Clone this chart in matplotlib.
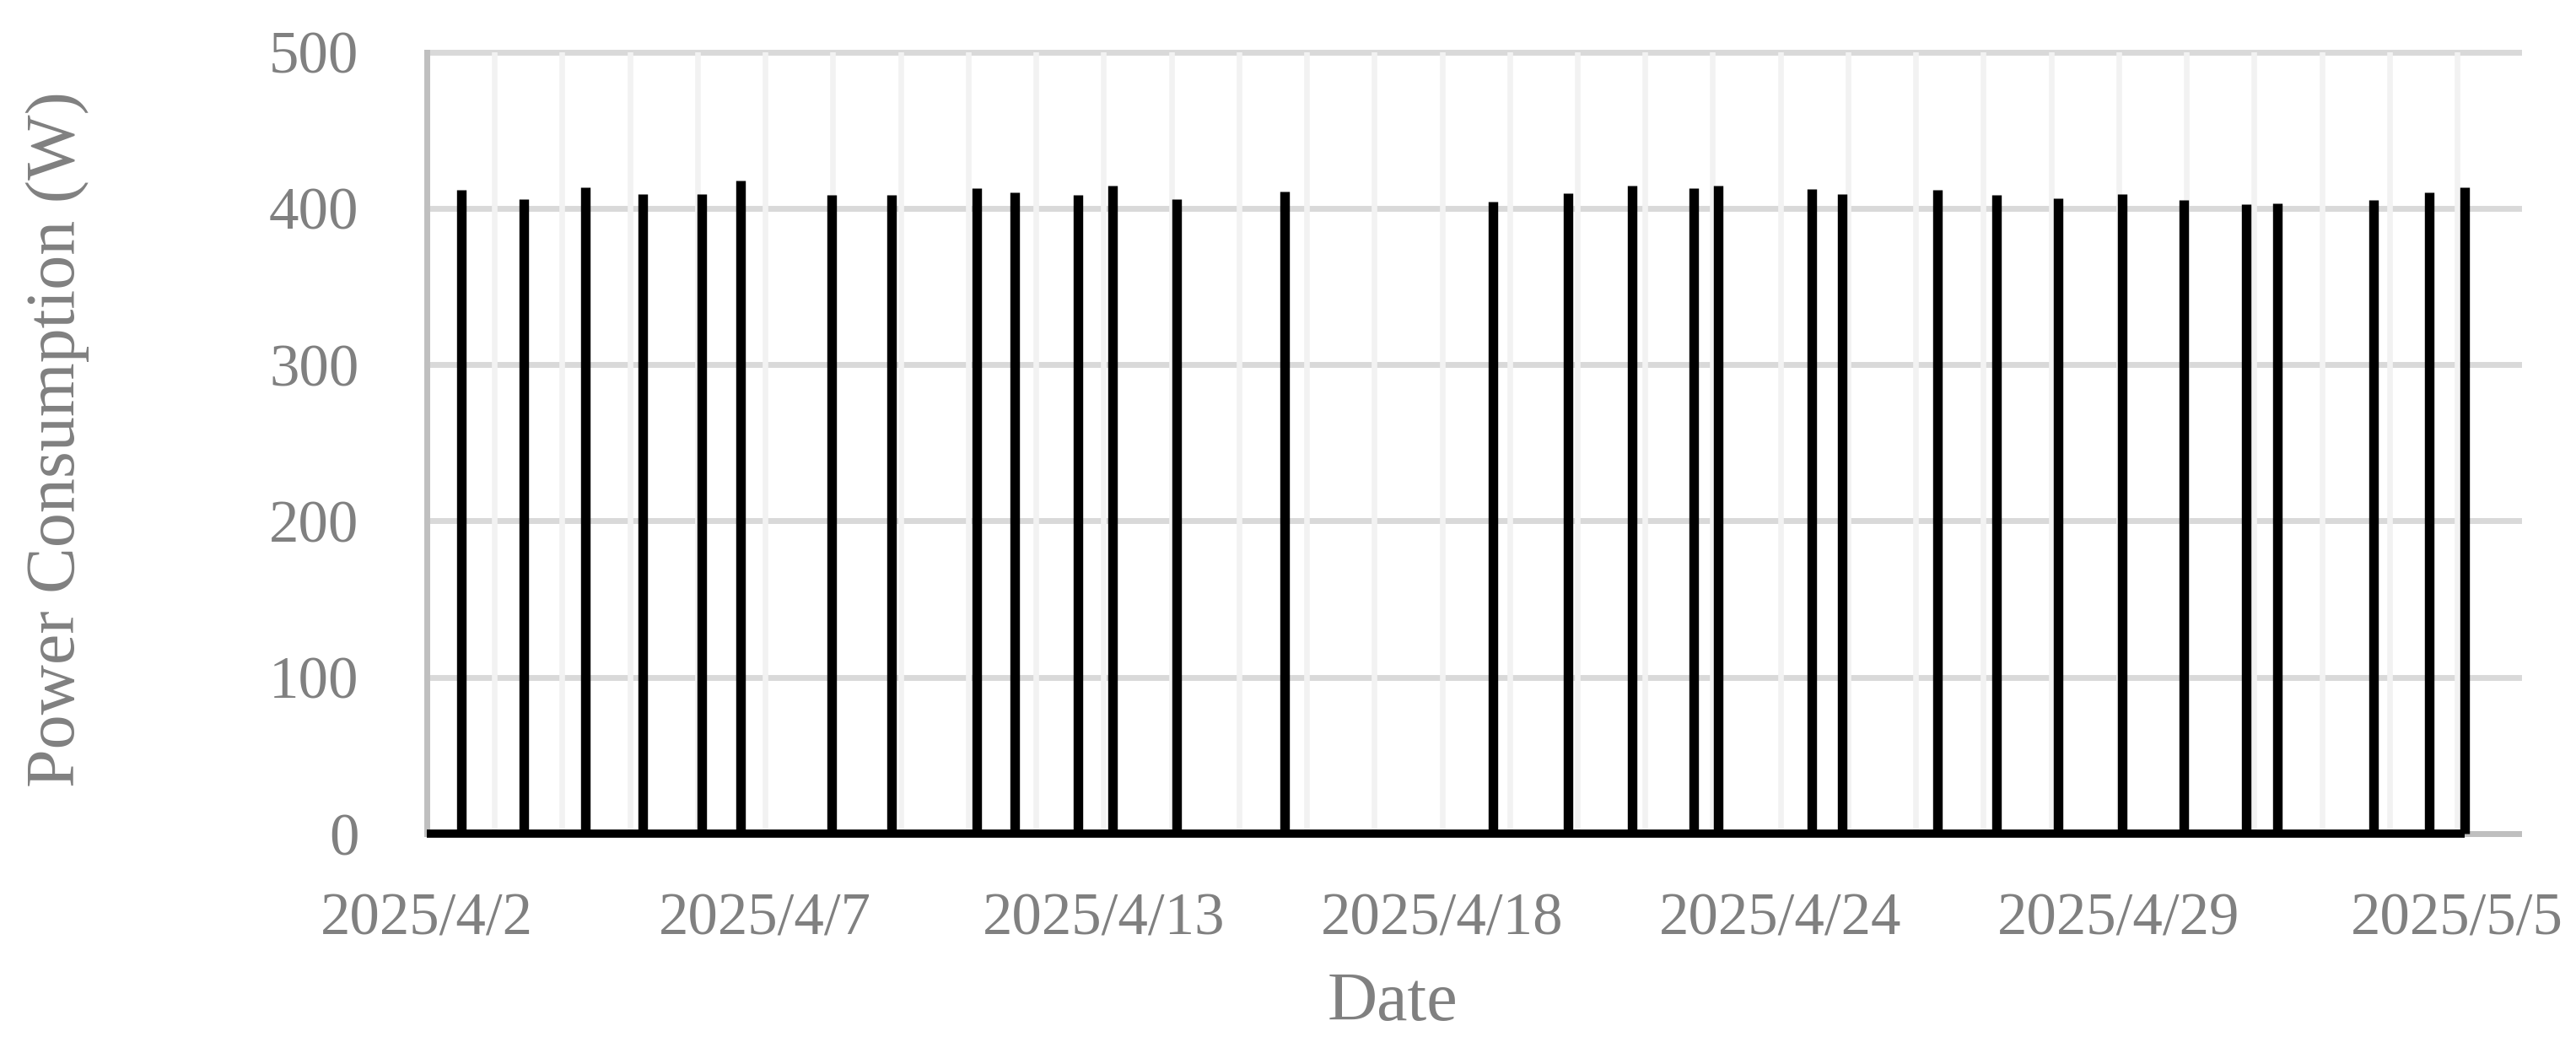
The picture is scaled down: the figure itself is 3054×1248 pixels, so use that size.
import numpy as np
import pandas as pd
import matplotlib
matplotlib.use("Agg")
import matplotlib.pyplot as plt
import matplotlib.dates as mdates
from matplotlib.ticker import FixedLocator, FuncFormatter

plt.rcParams['font.family'] = ['Liberation Serif', 'DejaVu Serif']

spike_times = [
    "2025-04-02 13:20", "2025-04-03 14:00", "2025-04-04 13:54", "2025-04-05 12:16",
    "2025-04-06 11:17", "2025-04-07 02:24", "2025-04-08 13:58", "2025-04-09 13:19",
    "2025-04-10 22:30", "2025-04-11 13:19", "2025-04-12 13:58", "2025-04-13 03:27",
    "2025-04-14 04:26", "2025-04-15 22:30", "2025-04-19 07:44", "2025-04-20 13:19",
    "2025-04-21 14:18", "2025-04-22 14:18", "2025-04-22 23:50", "2025-04-24 12:20",
    "2025-04-25 00:10", "2025-04-26 13:19", "2025-04-27 12:20", "2025-04-28 12:20",
    "2025-04-29 13:15", "2025-04-30 13:15", "2025-05-01 13:36", "2025-05-02 01:51",
    "2025-05-03 15:17", "2025-05-04 13:16", "2025-05-05 03:06",
]
spike_power = [
    411.6, 405.8, 413.2, 408.9, 408.9, 417.5, 408.4, 408.4,
    412.7, 410.0, 408.4, 414.3, 405.7, 410.5, 404.0, 409.4,
    414.3, 412.7, 414.3, 412.1, 408.9, 411.6, 408.4, 406.2,
    409.3, 405.4, 402.6, 403.2, 405.4, 410.4, 413.2,
]
# standby between the spikes
idle_times = ["2025-04-02 00:00", "2025-05-05 03:06"]
idle_power = [0, 0]

y_ticks = [0, 100, 200, 300, 400, 500]

start = pd.Timestamp("2025-04-02")
end = pd.Timestamp("2025-05-06")

W, H, DPI = 3054, 1248, 200
fig = plt.figure(figsize=(W / DPI, H / DPI), dpi=DPI)
ax = fig.add_axes([506 / W, 1 - 988 / H, (2986 - 506) / W, (988 - 61.5) / H])

text_color = '#808080'

t_spike = pd.to_datetime(spike_times)
t_idle = pd.to_datetime(idle_times)

ax.plot(t_idle, idle_power, color='black', lw=3.5, solid_capstyle='butt',
        zorder=3, clip_on=False)
ax.vlines(t_spike, 0, spike_power, color='black', lw=4.1, zorder=3,
          capstyle='butt', clip_on=False)

ax.set_xlim(start, end)
ax.set_ylim(0, 500)

# labels every 5.5 days, light vertical grid every 1.1 days (category-style axis)
s0 = mdates.date2num(start)
ax.xaxis.set_major_locator(FixedLocator(s0 + np.arange(7) * 5.5))
ax.xaxis.set_minor_locator(FixedLocator(s0 + np.arange(31) * 1.1))
ax.xaxis.set_major_formatter(FuncFormatter(
    lambda v, pos: (lambda d: f"{d.year}/{d.month}/{d.day}")(mdates.num2date(v))))
ax.set_yticks(y_ticks)

ax.set_axisbelow(True)
ax.grid(which='both', axis='x', color='#F2F2F2', lw=2.4)
ax.grid(which='major', axis='y', color='#D9D9D9', lw=2.5)
ax.yaxis.set_zorder(0.3)
ax.xaxis.set_zorder(0.4)
for gl in ax.get_ygridlines():
    gl.set_clip_on(False)

for side in ['top', 'right']:
    ax.spines[side].set_visible(False)
for side in ['left', 'bottom']:
    ax.spines[side].set_color('#BFBFBF')
    ax.spines[side].set_linewidth(2.5)
    ax.spines[side].set_zorder(1)

ax.tick_params(which='both', length=0)
ax.tick_params(axis='y', pad=29, labelsize=25.5, labelcolor=text_color)
ax.tick_params(axis='x', pad=25, labelsize=25.5, labelcolor=text_color)

fig.text(68 / W, 1 - 521 / H, "Power Consumption (W)", rotation=90,
         ha='center', va='center', fontsize=29.5, color=text_color)
fig.text(1651 / W, 1 - 1189 / H, "Date", ha='center', va='center',
         fontsize=29.5, color=text_color)

fig.savefig("out.png", dpi=DPI, facecolor='white')
